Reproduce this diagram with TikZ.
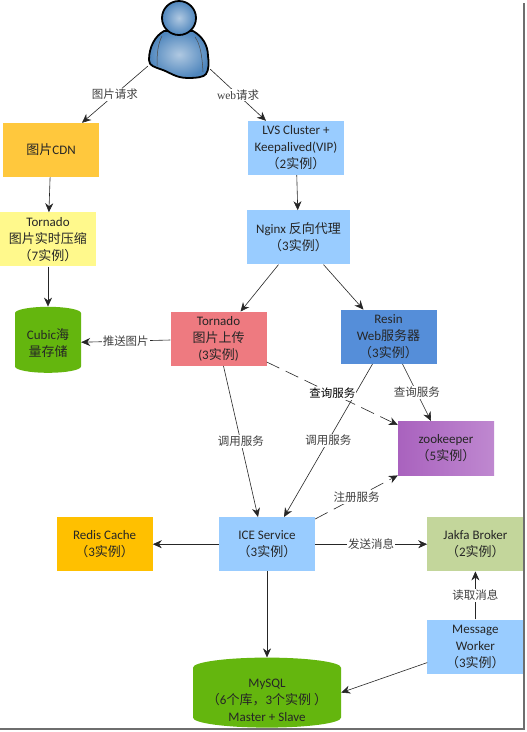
\documentclass[tikz,border=0pt]{standalone}
\usepackage{fontspec}
\setmainfont{Carlito}
\newfontfamily\cjk{Noto Sans CJK SC}
\newfontfamily\webfont{Liberation Serif}
\usetikzlibrary{positioning, arrows.meta, shapes.geometric}
\newcommand{\zh}[1]{{\cjk #1}}
\newcommand{\inst}[1]{\zh{（}#1\zh{实例）}}
\definecolor{cdnorange}{HTML}{FFC83D}
\definecolor{paleyellow}{HTML}{FFF98C}
\definecolor{svcblue}{HTML}{99CCFF}
\definecolor{uploadred}{HTML}{EE7A80}
\definecolor{resinblue}{HTML}{558ED9}
\definecolor{redisgold}{HTML}{FFC000}
\definecolor{brokergreen}{HTML}{C3D69B}
\definecolor{storegreen}{HTML}{64B60E}
\definecolor{framegray}{HTML}{6E6E6E}
\definecolor{userblue}{HTML}{4F86BD}
\definecolor{zkleft}{HTML}{A962BE}
\definecolor{zkright}{HTML}{BF88D0}
\begin{document}
\begin{tikzpicture}[
  x=1pt, y=-1pt,
  box/.style={rectangle, text centered, align=center, text=black!85, inner sep=0pt,
              minimum width=96pt, minimum height=54pt, font=\fontsize{13}{17}\selectfont},
  store/.style={cylinder, shape border rotate=90, text centered, align=center, text=black!85,
                inner sep=0pt, fill=storegreen, font=\fontsize{13}{17}\selectfont},
  arr/.style={-{Stealth[length=9pt,width=8pt]}, line width=0.6pt, black!85},
  darr/.style={arr, dash pattern=on 14pt off 7pt},
  lab/.style={fill=white, inner sep=1pt, text=black!75, font=\fontsize{11.5}{13}\selectfont}
]
  \useasboundingbox (0,0) rectangle (527,732);
  \fill[white] (0,0) rectangle (527,732);
  \draw[framegray, line width=2.5pt] (524,3) -- (524,729) -- (0,729);

  % user figure
  \node[minimum width=62pt, minimum height=78pt, inner sep=0pt] (user) at (179,39) {};
  \path[draw=black, line width=1.8pt, inner color=userblue!45!white, outer color=userblue]
    (164,31) .. controls (155,36) and (149,47) .. (149,60)
    .. controls (149,66) and (155,67) .. (160,69)
    .. controls (170,72) and (175,78) .. (188,78)
    .. controls (197,78) and (204,77) .. (206,74)
    .. controls (209,70) and (209,62) .. (208,56)
    .. controls (208,45) and (202,36) .. (193,31) -- cycle;
  \draw[black!70, line width=0.5pt] (162,36) .. controls (158,44) and (157,52) .. (157,66);
  \draw[black!70, line width=0.5pt] (195,37) .. controls (200,44) and (202,54) .. (203,72);
  \path[draw=black, line width=1.8pt, inner color=userblue!45!white, outer color=userblue]
    (179,18) circle (17pt);

  \node[box, fill=cdnorange]                        (cdn)    at (51,150) {\zh{图片}CDN};
  \node[box, fill=paleyellow, below=35pt of cdn, xshift=-3pt] (compress) {Tornado\\\zh{图片实时压缩}\\\inst{7}};
  \node[store, below=40pt of compress, minimum width=66pt, minimum height=66pt, aspect=.3] (cubic) {Cubic\zh{海}\\\zh{量存储}};
  \node[box, fill=svcblue]                          (lvs)    at (296,148) {LVS Cluster +\\Keepalived(VIP)\\\inst{2}};
  \node[box, fill=svcblue, minimum width=103pt, below=35pt of lvs, xshift=2.5pt] (nginx) {Nginx \zh{反向代理}\\\inst{3}};
  \node[box, fill=uploadred, below=47pt of nginx, xshift=-80pt] (upload) {Tornado\\\zh{图片上传}\\(3\zh{实例})};
  \node[box, fill=resinblue, below=45pt of nginx, xshift=90pt]  (resin)  {Resin\\Web\zh{服务器}\\\inst{3}};
  \node[box, left color=zkleft, right color=zkright, below=57pt of resin, xshift=57.5pt] (zk) {zookeeper\\\inst{5}};
  \node[box, fill=svcblue, below=151pt of upload, xshift=48.5pt] (ice) {ICE Service\\\inst{3}};
  \node[box, fill=redisgold, left=66pt of ice]      (redis)  {Redis Cache\\\inst{3}};
  \node[box, fill=brokergreen, right=112pt of ice]  (broker) {Jakfa Broker\\\inst{2}};
  \node[box, fill=svcblue, below=48pt of broker]    (worker) {Message\\Worker\\\inst{3}};
  \node[box, below=86pt of ice, minimum width=148pt, minimum height=70pt, path picture={
    \fill[storegreen] ([yshift=-10pt]path picture bounding box.north west)
      arc[start angle=180, end angle=0, x radius=74pt, y radius=10pt]
      -- ([yshift=10pt]path picture bounding box.south east)
      arc[start angle=0, end angle=-180, x radius=74pt, y radius=10pt] -- cycle;}] (mysql) {};
  \node[box, minimum height=0pt, yshift=-8pt] (mysqltext) at (mysql.center) {MySQL\\\zh{（}6\zh{个库，}3\zh{个实例 ）}\\Master + Slave};

  \draw[arr] (user.221) -- node[lab] (l1) {\zh{图片请求}} ([xshift=31pt]cdn.north);
  \draw[arr] (user.-44) -- node[lab] (l2) {{\webfont web}\zh{请求}} ([xshift=-30pt]lvs.north);
  \draw[arr] (cdn) -- (compress);
  \draw[arr] (compress) -- (cubic);
  \draw[arr] (lvs) -- (nginx);
  \draw[arr] ([xshift=-20pt]nginx.south) -- ([xshift=22pt]upload.north);
  \draw[arr] ([xshift=25pt]nginx.south) -- ([xshift=-25pt]resin.north);
  \draw[arr] (upload) -- node[lab] (l3) {\zh{推送图片}} (cubic);
  \draw[arr] ([xshift=5pt]upload.south) -- node[lab] (l4) {\zh{调用服务}} ([xshift=-9pt]ice.north);
  \draw[arr] ([xshift=-16pt]resin.south) -- node[lab] (l5) {\zh{调用服务}} ([xshift=17pt]ice.north);
  \draw[arr] ([xshift=14pt]resin.south) -- node[lab] (l6) {\zh{查询服务}} ([xshift=-15pt]zk.north);
  \draw[darr] ([yshift=4pt]upload.south east) -- node[lab, text=black] (l7) {\zh{查询服务}} ([yshift=-4pt]zk.north west);
  \draw[darr] ([yshift=-2pt]ice.north east) -- node[lab] (l8) {\zh{注册服务}} (zk.south west);
  \draw[arr] (ice) -- (redis);
  \draw[arr] (ice) -- node[lab] (l9) {\zh{发送消息}} (broker);
  \draw[arr] (ice) -- (mysql);
  \draw[arr] (worker) -- node[lab] (l10) {\zh{读取消息}} (broker);
  \draw[arr] ([yshift=-16pt]worker.west) -- (mysql.east);
\end{tikzpicture}
\end{document}
